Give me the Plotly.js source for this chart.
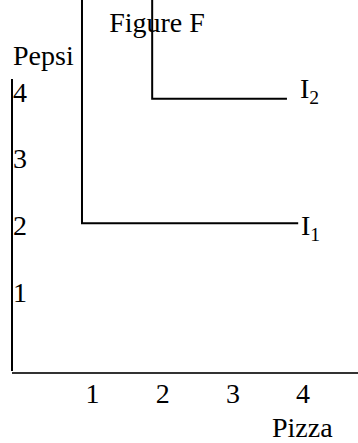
<!DOCTYPE html>
<html>
<head>
<meta charset="utf-8">
<script src="https://cdn.plot.ly/plotly-3.0.1.min.js"></script>
<style>html,body{margin:0;padding:0;background:#fff;}#chart{width:358px;height:443px;}</style>
</head>
<body>
<div id="chart"></div>
<script>
// Data (axis units)
var tickValues = [1, 2, 3, 4];
var tickLabels = ['1', '2', '3', '4'];
var i1X = [0.85, 0.85, 3.93];
var i1Y = [5.6, 2.03, 2.03];
var i2X = [1.85, 1.85, 3.77];
var i2Y = [5.6, 3.9, 3.9];
var curveNames = ['I<sub>1</sub>', 'I<sub>2</sub>'];

var FONT = 'Liberation Serif, serif';
var lineStyle = {color: '#000', width: 2};

var traces = [
  {x: i1X, y: i1Y, mode: 'lines', line: lineStyle, hoverinfo: 'skip', showlegend: false},
  {x: i2X, y: i2Y, mode: 'lines', line: lineStyle, hoverinfo: 'skip', showlegend: false}
];

var layout = {
  width: 358, height: 443,
  margin: {l: 12, r: 0, t: 0, b: 71, pad: 0},
  paper_bgcolor: '#fff', plot_bgcolor: '#fff',
  font: {family: FONT, size: 28, color: '#000'},
  showlegend: false,
  title: {text: 'Figure F', xref: 'container', yref: 'container', x: 157/358, xanchor: 'center', y: 1 - 22/443, yanchor: 'middle', font: {family: FONT, size: 28, color: '#000'}},
  xaxis: {
    range: [-0.147, 4.782], tickvals: tickValues, ticktext: tickLabels,
    tickfont: {family: FONT, size: 28, color: '#000'},
    showgrid: false, zeroline: false, showline: true, linecolor: '#333', linewidth: 2,
    ticks: '', ticklabelstandoff: -5, fixedrange: true
  },
  yaxis: {
    range: [-0.2, 5.38], tickvals: tickValues, ticktext: tickLabels,
    tickfont: {family: FONT, size: 28, color: '#000'},
    showgrid: false, zeroline: false, showline: false, ticks: '',
    ticklabelposition: 'inside', ticklabelstandoff: -2, fixedrange: true
  },
  shapes: [
    {type: 'line', xref: 'paper', yref: 'paper', x0: 0, x1: 0, y0: 1/372, y1: (372-79)/372, line: {color: '#000', width: 2}}
  ],
  annotations: [
    {text: 'Pepsi', xref: 'paper', yref: 'paper', x: 0, xanchor: 'left', y: (372-56)/372, yanchor: 'middle', showarrow: false, borderpad: 0},
    {text: 'Pizza', xref: 'paper', yref: 'paper', x: (302-12)/346, xanchor: 'center', y: (372-427)/372, yanchor: 'middle', showarrow: false, borderpad: 0},
    {text: curveNames[0], xref: 'x', yref: 'y', x: i1X[i1X.length-1], y: i1Y[i1Y.length-1], xanchor: 'left', yanchor: 'middle', xshift: 2, yshift: -4, showarrow: false, borderpad: 0},
    {text: curveNames[1], xref: 'x', yref: 'y', x: i2X[i2X.length-1], y: i2Y[i2Y.length-1], xanchor: 'left', yanchor: 'middle', xshift: 12, yshift: 8, showarrow: false, borderpad: 0}
  ]
};

Plotly.newPlot('chart', traces, layout, {staticPlot: true, displayModeBar: false});
</script>
</body>
</html>
